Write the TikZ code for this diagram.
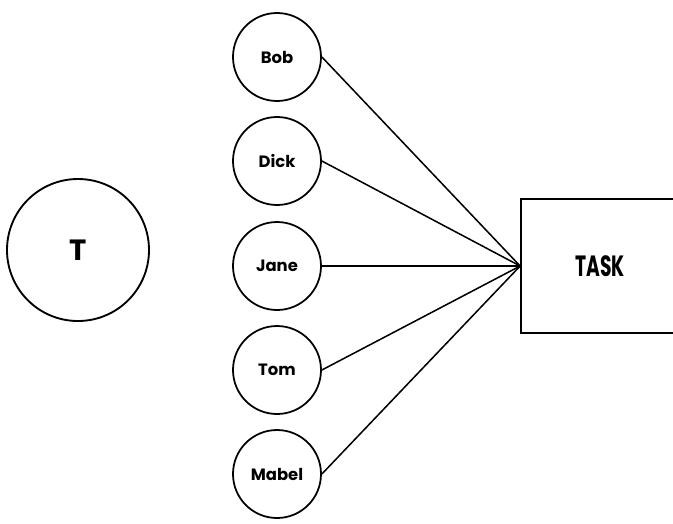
\documentclass[tikz,border=0pt]{standalone}
\usepackage{fontspec}
\newfontfamily\namefont{Poppins}
\newfontfamily\taskfont[FakeStretch=0.64]{Poppins}
\begin{document}
\begin{tikzpicture}[x=0.03cm,y=-0.03cm,
person/.style={circle,draw,line width=1.5pt,minimum size=2.64cm,inner sep=0pt,
  font=\namefont\bfseries\fontsize{14}{16}\selectfont},
link/.style={line width=1.3pt}
]
\useasboundingbox (0,0) rectangle (673,523);
\clip (0,0) rectangle (673,523);
\def\X{277}
% the one on the left
\node[circle,draw,line width=1.6pt,minimum size=4.26cm,inner sep=0pt,
  font=\namefont\bfseries\fontsize{25}{27}\selectfont] (teacher) at (78,250) {T};
% the group
\node[person] (bob) at (\X,57) {Bob};
\node[person] (dick) at (\X,161) {Dick};
\node[person] (jane) at (\X,266) {Jane};
\node[person] (tom) at (\X,370) {Tom};
\node[person] (mabel) at (\X,474) {Mabel};
% the task
\node[draw,line width=1.5pt,minimum width=4.74cm,minimum height=4.02cm,
  font=\taskfont\bfseries\fontsize{25}{27}\selectfont] (task) at (600,266) {TASK};
\foreach \p in {bob,dick,jane,tom,mabel}
  \draw[link] (\p.east) -- (task.west);
\end{tikzpicture}
\end{document}
